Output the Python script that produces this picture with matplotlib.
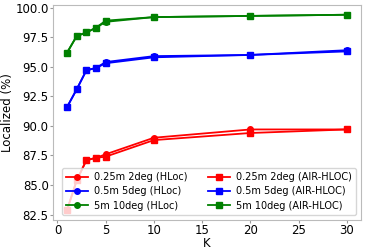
import matplotlib
matplotlib.use("Agg")
import matplotlib.pyplot as plt

K = [1, 2, 3, 4, 5, 10, 20, 30]

# HLoc
hloc_025 = [82.9, 85.4, 87.1, 87.3, 87.6, 89.0, 89.7, 89.7]
hloc_05 = [91.6, 93.1, 94.7, 94.9, 95.4, 95.9, 96.0, 96.4]
hloc_5 = [96.2, 97.6, 97.9, 98.3, 98.8, 99.2, 99.3, 99.4]

# AIR-HLOC
air_025 = [82.9, 85.4, 87.1, 87.3, 87.4, 88.8, 89.4, 89.7]
air_05 = [91.6, 93.1, 94.7, 94.9, 95.3, 95.8, 96.0, 96.3]
air_5 = [96.2, 97.6, 97.9, 98.3, 98.9, 99.2, 99.3, 99.4]

labels_hloc = ["0.25m 2deg (HLoc)", "0.5m 5deg (HLoc)", "5m 10deg (HLoc)"]
labels_air = ["0.25m 2deg (AIR-HLOC)", "0.5m 5deg (AIR-HLOC)", "5m 10deg (AIR-HLOC)"]
colors = ["red", "blue", "green"]

fig, ax = plt.subplots(figsize=(3.74, 2.49), dpi=100)

for y, lab, c in zip([hloc_025, hloc_05, hloc_5], labels_hloc, colors):
    ax.plot(K, y, "-o", color=c, label=lab, markersize=4, linewidth=1.3)
for y, lab, c in zip([air_025, air_05, air_5], labels_air, colors):
    ax.plot(K, y, "-s", color=c, label=lab, markersize=4, linewidth=1.3)

ax.set_xlabel("K", fontsize=8.5, labelpad=0)
ax.set_ylabel("Localized (%)", fontsize=8.5, labelpad=1)
ax.tick_params(labelsize=8.5, pad=1.2, length=2, color="#999999")
ax.set_yticks([82.5, 85.0, 87.5, 90.0, 92.5, 95.0, 97.5, 100.0])
for s in ax.spines.values():
    s.set_color("#bbbbbb")

ax.legend(ncol=2, loc="lower right", fontsize=7, handlelength=2.3,
          handletextpad=0.6, columnspacing=2.1, labelspacing=0.45,
          borderpad=0.4, borderaxespad=0.5)

plt.subplots_adjust(left=0.142, right=0.965, top=0.98, bottom=0.118)
plt.savefig("out.png")
